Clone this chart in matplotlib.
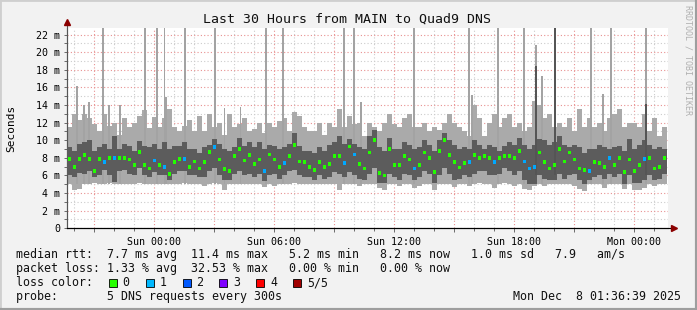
import numpy as np
import matplotlib.pyplot as plt
from matplotlib.patches import Rectangle
from matplotlib.lines import Line2D
from matplotlib.ticker import FixedLocator, MultipleLocator, FuncFormatter

# time axis: hours relative to Sun 00:00, 15 minute bins
t_start = -4.37
bin_h = 0.25

# median rtt per bin (ms)
median = [7.9, 7.0, 7.9, 8.3, 7.9, 6.5, 7.9, 7.5, 8.0, 8.0, 8.0, 8.0, 7.8, 7.2, 8.7, 7.2, 6.8, 7.7, 7.2, 7.0,
          6.2, 7.5, 7.9, 7.9, 7.0, 7.6, 6.8, 7.5, 8.7, 9.2, 7.8, 6.7, 6.5, 8.2, 9.0, 7.7, 8.3, 7.3, 7.8, 6.5,
          8.4, 7.8, 7.0, 7.4, 8.2, 9.5, 7.6, 7.5, 7.0, 6.6, 7.5, 7.0, 7.3, 8.2, 8.2, 7.4, 9.3, 8.4, 7.3, 6.8,
          8.6, 10.0, 6.3, 6.0, 9.0, 7.2, 7.2, 8.2, 7.8, 6.8, 7.2, 8.6, 8.0, 6.4, 8.8, 10.0, 8.3, 7.5, 6.9, 7.4,
          7.5, 8.3, 8.0, 8.2, 8.0, 7.5, 8.0, 8.2, 8.2, 8.0, 8.8, 7.6, 6.8, 7.0, 8.6, 7.5, 6.8, 7.2, 9.0, 7.6,
          8.6, 7.8, 6.8, 6.6, 6.5, 7.5, 7.4, 7.0, 8.0, 7.2, 8.0, 6.4, 7.8, 6.5, 7.2, 7.9, 8.0, 6.8, 7.0, 8.0]

# inner smoke band (dark)
dark_hi = [9.2, 8.8, 9.6, 9.8, 10.0, 8.8, 9.2, 9.6, 9.0, 10.5, 9.0, 9.6, 9.3, 8.8, 9.9, 9.4, 9.2, 9.6, 9.0, 9.8,
           9.0, 9.4, 9.3, 9.8, 9.0, 9.0, 8.6, 9.2, 9.5, 10.2, 9.6, 9.0, 8.8, 9.2, 10.3, 9.4, 9.8, 9.2, 9.8, 9.0,
           9.5, 9.4, 9.0, 9.2, 9.6, 10.8, 9.3, 8.8, 8.8, 8.6, 9.2, 8.8, 9.5, 9.8, 10.5, 9.6, 10.2, 9.6, 9.2, 9.0,
           10.5, 11.2, 9.2, 8.8, 10.3, 9.0, 9.0, 9.8, 9.5, 9.0, 9.2, 10.0, 9.5, 8.8, 10.0, 10.8, 10.0, 9.5, 9.0, 9.2,
           9.0, 10.0, 9.5, 9.0, 9.5, 9.2, 8.8, 9.3, 9.8, 9.5, 10.3, 9.5, 9.0, 9.5, 10.2, 10.0, 9.5, 9.8, 10.5, 9.5,
           9.2, 9.5, 9.2, 8.5, 9.0, 9.0, 9.5, 9.2, 9.0, 9.2, 9.3, 8.8, 10.2, 9.0, 9.5, 10.0, 9.5, 9.0, 9.2, 9.0]
dark_lo = [6.0, 5.8, 6.3, 6.2, 6.5, 5.8, 6.0, 6.6, 6.0, 5.3, 6.5, 6.6, 6.2, 6.0, 6.8, 6.1, 5.8, 6.4, 6.0, 6.0,
           5.5, 6.2, 6.5, 6.5, 6.0, 6.0, 5.8, 5.8, 6.5, 6.8, 6.0, 5.5, 5.5, 6.2, 6.5, 6.0, 6.2, 5.8, 6.2, 5.4,
           6.0, 6.2, 5.6, 6.0, 6.5, 6.6, 6.0, 5.8, 5.8, 5.5, 6.0, 5.6, 5.8, 6.4, 6.2, 5.8, 6.4, 6.0, 5.6, 5.5,
           6.2, 6.8, 5.2, 5.2, 6.2, 5.8, 5.5, 6.2, 6.0, 5.5, 5.8, 6.5, 6.2, 5.2, 6.0, 6.8, 6.2, 5.5, 5.6, 6.0,
           5.8, 6.2, 6.5, 6.5, 6.0, 6.0, 6.2, 6.8, 6.5, 6.0, 6.5, 5.5, 5.0, 5.0, 6.0, 5.6, 5.5, 5.5, 6.2, 5.6,
           6.0, 6.2, 5.5, 5.0, 5.5, 5.8, 6.0, 5.6, 6.2, 5.8, 6.2, 5.0, 6.0, 5.2, 5.2, 5.5, 6.0, 5.5, 5.6, 6.2]

# outer smoke band (light)
light_hi = [11.5, 13.0, 12.3, 13.0, 12.5, 11.8, 11.0, 13.0, 11.6, 12.0, 10.6, 12.5, 11.5, 12.0, 12.8, 13.4, 11.4, 12.6, 11.5, 12.5,
            13.5, 11.5, 11.0, 11.6, 12.3, 11.0, 12.8, 11.0, 13.0, 11.5, 12.0, 10.6, 13.0, 11.5, 11.8, 12.5, 11.0, 11.3, 12.0, 10.8,
            12.0, 11.5, 12.2, 12.5, 11.0, 13.2, 12.8, 11.5, 11.0, 11.0, 12.0, 10.6, 12.0, 11.5, 13.6, 11.5, 12.8, 11.8, 12.0, 10.5,
            12.0, 11.5, 11.0, 12.0, 13.0, 11.8, 11.5, 12.5, 13.0, 11.5, 11.5, 12.0, 11.0, 11.5, 11.2, 12.0, 13.0, 12.0, 11.5, 11.0,
            10.5, 14.0, 12.5, 10.5, 12.0, 13.0, 11.5, 12.5, 13.0, 11.5, 12.0, 11.0, 11.5, 14.5, 14.0, 12.5, 13.0, 11.5, 12.0, 11.5,
            12.5, 11.0, 13.5, 11.5, 12.5, 11.5, 12.0, 11.0, 12.5, 13.0, 13.5, 11.5, 12.0, 12.0, 11.5, 13.0, 11.0, 12.5, 10.5, 11.5]
light_lo = [5.0, 4.4, 4.5, 5.0, 5.0, 5.2, 5.0, 5.0, 5.1, 5.0, 5.0, 5.0, 5.0, 5.0, 5.1, 5.0, 5.0, 5.0, 5.0, 5.0,
            5.0, 5.0, 5.0, 5.2, 5.0, 5.0, 5.0, 4.8, 5.0, 5.2, 5.0, 4.3, 5.0, 5.0, 5.0, 5.0, 5.0, 5.0, 5.0, 4.7,
            5.0, 4.8, 5.0, 5.0, 5.0, 5.2, 5.0, 5.0, 5.0, 5.0, 5.0, 5.0, 5.0, 5.0, 4.4, 5.0, 5.0, 5.0, 4.8, 5.0,
            5.0, 5.0, 4.6, 4.4, 5.0, 5.0, 4.8, 5.0, 5.0, 4.6, 4.8, 5.0, 5.0, 4.4, 5.0, 5.0, 5.0, 4.7, 5.0, 5.0,
            4.8, 5.0, 5.2, 5.0, 5.0, 4.6, 5.0, 5.2, 5.0, 4.8, 5.0, 4.5, 4.4, 4.8, 5.0, 4.8, 5.0, 5.0, 5.0, 5.0,
            5.0, 4.8, 4.5, 4.2, 5.0, 5.0, 5.0, 4.6, 5.0, 5.0, 5.0, 4.5, 5.0, 4.4, 4.4, 4.6, 5.0, 4.8, 5.0, 5.0]

# bins where median had 1 lost packet (blue)
loss1_bins = [7, 9, 17, 19, 23, 29, 39, 43, 55, 57, 69, 80, 85, 91, 92, 93, 104, 108, 115]

# single 5-minute outliers (hours from Sun 00:00, top in ms; 30 = off the chart)
spike_t = [-3.87, -3.52, -3.27, -2.58, -2.27, -1.72, -0.47, 0.13, 0.49, 0.58, 1.53, 3.03, 3.49, 4.29,
           5.58, 6.43, 9.48, 9.98, 10.33, 12.98, 15.73, 15.88, 17.18, 18.48, 19.08, 19.38, 21.83,
           22.43, 22.83, 24.58]
spike_top = [16.2, 14.0, 14.4, 30, 14.0, 14.0, 30, 30, 30, 14.9, 30, 30, 13.7, 13.8,
             30, 30, 30, 30, 14.4, 30, 30, 15.1, 30, 30, 20.8, 17.3, 30,
             15.3, 30, 30]
dark_spike_t = [19.08, 20.03, 24.58]
dark_spike_top = [18.4, 30, 14.1]

W, H = 697, 310
fig = plt.figure(figsize=(W / 100, H / 100), dpi=100, facecolor='#f2f2f2')
ax = fig.add_axes([67 / W, 1 - 228.3 / H, 601 / W, 200.3 / H])
ax.set_facecolor('white')

n = len(median)
x = t_start + np.arange(n) * bin_h
med = np.array(median)
ax.bar(x, np.array(light_hi) - np.array(light_lo), bottom=light_lo, width=bin_h, align='edge',
       color='#aaaaaa', linewidth=0, zorder=2)
ax.bar(x, np.array(dark_hi) - np.array(dark_lo), bottom=dark_lo, width=bin_h, align='edge',
       color='#5c5c5c', linewidth=0, zorder=3)
ax.bar(spike_t, np.array(spike_top) - 5.0, bottom=5.0, width=0.07, color='#a3a3a3', linewidth=0, zorder=2)
ax.bar(dark_spike_t, np.array(dark_spike_top) - 6.0, bottom=6.0, width=0.07, color='#555555',
       linewidth=0, zorder=3)

cols = np.array(['#22ff00'] * n, dtype=object)
cols[loss1_bins] = '#00a8ff'
ax.scatter(x + bin_h / 2, med, marker='s', s=7, c=list(cols), linewidths=0, zorder=5)

ax.set_xlim(t_start, t_start + 30.05)
ax.set_ylim(0, 22.76)

# grid
ax.xaxis.set_major_locator(FixedLocator([-3, 0, 3, 6, 9, 12, 15, 18, 21, 24]))
ax.xaxis.set_minor_locator(MultipleLocator(1))
names = {0: 'Sun 00:00', 6: 'Sun 06:00', 12: 'Sun 12:00', 18: 'Sun 18:00', 24: 'Mon 00:00'}
ax.xaxis.set_major_formatter(FuncFormatter(lambda v, p: names.get(int(round(v)), '')))
ax.yaxis.set_major_locator(MultipleLocator(2))
ax.yaxis.set_minor_locator(MultipleLocator(1))
ax.yaxis.set_major_formatter(FuncFormatter(lambda v, p: '0' if v == 0 else f'{int(round(v))} m'))
ax.grid(which='major', color='#e89090', linestyle=(0, (1, 2)), linewidth=0.8, zorder=1)
ax.grid(which='minor', color='#cccccc', linestyle=(0, (1, 2)), linewidth=0.8, zorder=1)
ax.set_axisbelow(True)

mono = 'DejaVu Sans Mono'
for lab in ax.get_xticklabels() + ax.get_yticklabels():
    lab.set_fontfamily(mono)
    lab.set_fontsize(7.2)
ax.tick_params(which='both', direction='out', length=2, width=0.6, color='#555555', pad=3)
ax.tick_params(axis='x', which='major', length=3, pad=3)

for s in ['top', 'right']:
    ax.spines[s].set_visible(False)
ax.spines['left'].set_color('#555555')
ax.spines['bottom'].set_color('black')

# axis extensions with arrowheads
ax.add_line(Line2D([0, 0], [0, 1.02], transform=ax.transAxes, color='#555555', lw=0.8, clip_on=False))
ax.add_line(Line2D([0, 1.007], [0, 0], transform=ax.transAxes, color='black', lw=0.8, clip_on=False))
ax.plot([0], [1.03], marker='^', ms=4.5, color='#8b0000', transform=ax.transAxes, clip_on=False)
ax.plot([1.01], [0], marker='>', ms=4.5, color='#8b0000', transform=ax.transAxes, clip_on=False)


def fx(px):
    return px / W


def fy(py):
    return 1 - py / H


fig.text(fx(347), fy(19), 'Last 30 Hours from MAIN to Quad9 DNS', ha='center', va='center',
         family=mono, fontsize=9.5, color='#111111')
fig.text(fx(11), fy(128), 'Seconds', rotation=90, ha='center', va='center', family=mono, fontsize=8)
fig.text(fx(688), fy(5), 'RRDTOOL / TOBI OETIKER', rotation=270, ha='center', va='top',
         family=mono, fontsize=6, color='#b0b0b0')

legend_lines = [
    'median rtt:  7.7 ms avg  11.4 ms max   5.2 ms min   8.2 ms now   1.0 ms sd   7.9   am/s',
    'packet loss: 1.33 % avg  32.53 % max   0.00 % min   0.00 % now',
    'loss color:',
    'probe:       5 DNS requests every 300s',
]
for i, line in enumerate(legend_lines):
    fig.text(fx(16), fy(254.5 + 14 * i), line, ha='left', va='center', family=mono, fontsize=8.4,
             color='#111111')

loss_colors = ['#26ff00', '#00b8ff', '#0059ff', '#7e00ff', '#ff0000', '#a10000']
loss_labels = ['0', '1', '2', '3', '4', '5/5']
for i, (c, lab) in enumerate(zip(loss_colors, loss_labels)):
    x0 = 108.7 + 36.9 * i
    fig.patches.append(Rectangle((fx(x0), fy(286.7)), 8 / W, 8 / H, transform=fig.transFigure,
                                 facecolor=c, edgecolor='black', linewidth=0.6))
    fig.text(fx(x0 + 14), fy(282.7), lab, ha='left', va='center', family=mono, fontsize=8.4,
             color='#111111')

fig.text(fx(681), fy(296.5), 'Mon Dec  8 01:36:39 2025', ha='right', va='center', family=mono,
         fontsize=8.4, color='#111111')

# frame shading
fig.add_artist(Line2D([0, 0], [0, 1], transform=fig.transFigure, color='#cfcfcf', lw=2))
fig.add_artist(Line2D([0, 1], [1, 1], transform=fig.transFigure, color='#cfcfcf', lw=2))
fig.add_artist(Line2D([1, 1], [0, 1], transform=fig.transFigure, color='#9e9e9e', lw=3))
fig.add_artist(Line2D([0, 1], [0, 0], transform=fig.transFigure, color='#9e9e9e', lw=3))

fig.savefig('out.png', dpi=100, facecolor=fig.get_facecolor())
